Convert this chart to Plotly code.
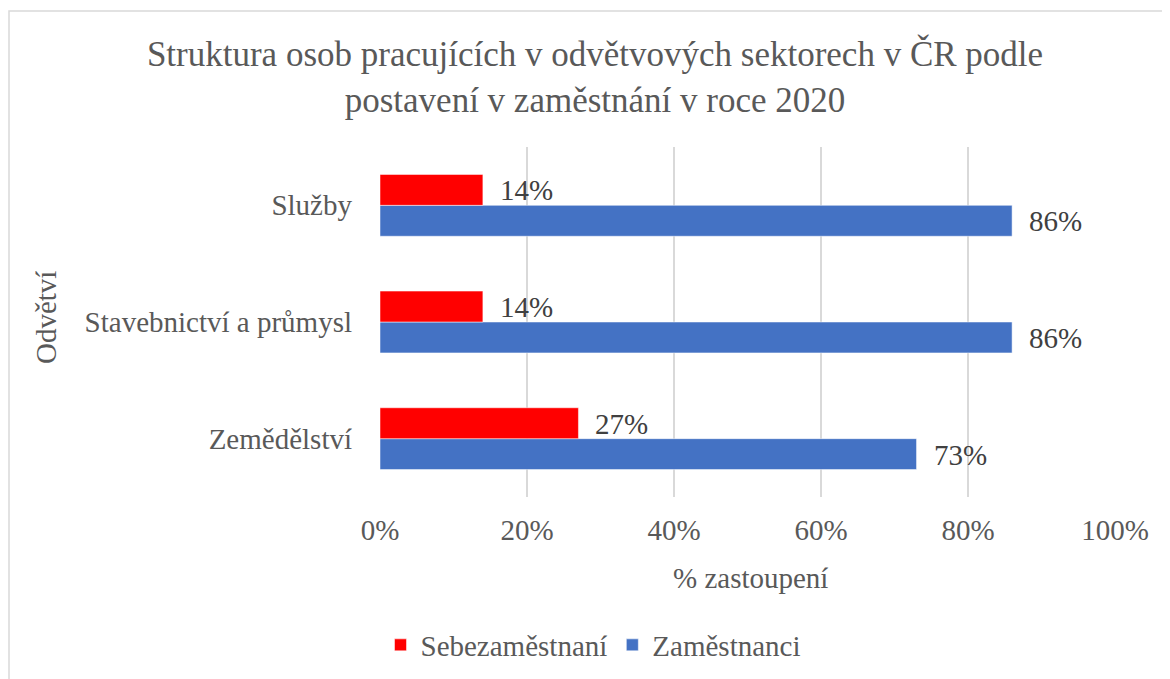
import plotly.graph_objects as go

categories = ["Zemědělství", "Stavebnictví a průmysl", "Služby"]
self_employed = [27, 14, 14]
employees = [73, 86, 86]
series_names = ["Sebezaměstnaní", "Zaměstnanci"]
x_ticks = [0, 20, 40, 60, 80, 100]
x_tick_labels = ["0%", "20%", "40%", "60%", "80%", "100%"]

FONT = "Liberation Serif, Times New Roman, serif"
GRAY = "#595959"
RED = "#FF0000"
BLUE = "#4472C4"
FS = 29

# page body has an 8px margin; positions below are in figure pixels
W, H = 1162, 671
L, R, T, B = 372, 55, 139, 182
PW, PH = W - L - R, H - T - B

def px_x(x):
    return (x - L) / PW

def px_y(y):
    return (H - B - y) / PH

fig = go.Figure()
fig.add_trace(go.Bar(
    y=categories, x=employees, name=series_names[1], orientation="h",
    marker=dict(color=BLUE, line=dict(color="rgba(255,255,255,0.5)", width=1)),
))
fig.add_trace(go.Bar(
    y=categories, x=self_employed, name=series_names[0], orientation="h",
    marker=dict(color=RED, line=dict(color="rgba(255,255,255,0.5)", width=1)),
))

annotations = []
for c, v in zip(categories, self_employed):
    annotations.append(dict(x=v, y=c, xref="x", yref="y", text=f"{v}%", showarrow=False,
                            xanchor="left", yanchor="middle", xshift=15, yshift=15,
                            font=dict(family=FONT, size=FS, color="#404040")))
for c, v in zip(categories, employees):
    annotations.append(dict(x=v, y=c, xref="x", yref="y", text=f"{v}%", showarrow=False,
                            xanchor="left", yanchor="middle", xshift=15, yshift=-16,
                            font=dict(family=FONT, size=FS, color="#404040")))
# axis titles
annotations.append(dict(x=px_x(742), y=px_y(570), xref="paper", yref="paper", text="% zastoupení",
                        showarrow=False, xanchor="center", yanchor="middle",
                        font=dict(family=FONT, size=FS, color=GRAY)))
annotations.append(dict(x=px_x(38), y=px_y(310), xref="paper", yref="paper", text="Odvětví",
                        showarrow=False, xanchor="center", yanchor="middle", textangle=-90,
                        font=dict(family=FONT, size=FS, color=GRAY)))

fig.update_layout(
    width=W, height=H,
    margin=dict(l=L, r=R, t=T, b=B),
    paper_bgcolor="white", plot_bgcolor="white",
    barmode="group", bargap=0.47, bargroupgap=0,
    title=dict(text="Struktura osob pracujících v odvětvových sektorech v ČR podle<br>postavení v zaměstnání v roce 2020",
               x=587 / W, xanchor="center", y=1 - 58 / H, yanchor="middle",
               font=dict(family=FONT, size=35, color=GRAY)),
    xaxis=dict(range=[0, 100], tickvals=x_ticks, ticktext=x_tick_labels,
               showgrid=True, gridcolor="#D9D9D9", gridwidth=1.5,
               zeroline=False, showline=False, ticks="",
               tickfont=dict(family=FONT, size=FS, color=GRAY), ticklabelstandoff=13),
    yaxis=dict(showgrid=False, zeroline=False, showline=False, ticks="",
               tickfont=dict(family=FONT, size=FS, color=GRAY), ticklabelstandoff=27),
    legend=dict(orientation="h", traceorder="reversed", x=585 / W, xanchor="center",
                xref="container", y=1 - 637 / H, yref="container", yanchor="middle",
                font=dict(family=FONT, size=FS, color=GRAY), itemwidth=30),
    annotations=annotations,
    shapes=[dict(type="rect", xref="paper", yref="paper",
                 x0=px_x(1), x1=px_x(1200), y0=px_y(3), y1=px_y(720),
                 line=dict(color="#D9D9D9", width=1.5), fillcolor="rgba(0,0,0,0)", layer="below")],
)

fig.write_html("out.html")
